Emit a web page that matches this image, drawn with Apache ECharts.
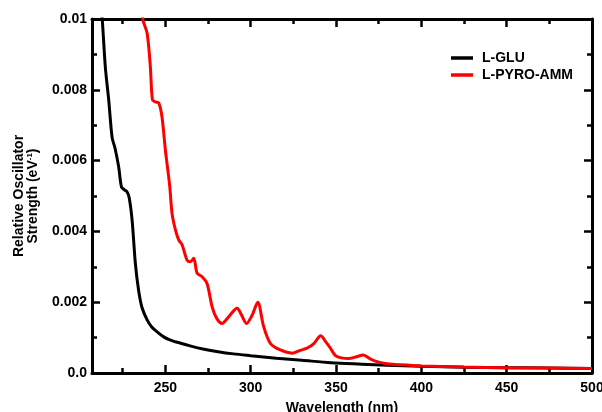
<!DOCTYPE html>
<html><head><meta charset="utf-8">
<script src="https://cdn.jsdelivr.net/npm/echarts@6/dist/echarts.min.js"></script>
<style>html,body{margin:0;padding:0;background:#fff}#c{width:602px;height:412px}</style>
</head><body><div id="c"></div>
<script>
const seriesNames = ['L-GLU', 'L-PYRO-AMM'];
const gluX = [209,213,214.8,216.8,218.8,220.5,222.6,224.3,225.8,227.5,228.8,230.5,232.4,234.3,236.3,239.3,242,245,249,253,259,265,272,280,290,300,315,330,347,365,380,400,425,450,475,500];
const gluY = [0.0125,0.0100,0.00865,0.00771,0.00665,0.00635,0.00583,0.00525,0.00518,0.00512,0.00495,0.00432,0.0031,0.00234,0.00185,0.0015,0.0013,0.00117,0.00102,0.00093,0.00084,0.00076,0.00068,0.00061,0.00054,0.00049,0.00042,0.00036,0.00029,0.00025,0.00022,0.00019,0.00016,0.00015,0.00014,0.00013];
const pyroX = [235,236.7,239.3,241.2,242.4,244.1,246.1,248,250,252.5,253.9,255.9,257.8,259.8,262.7,264.7,266.6,268.6,271.5,274.4,277.4,280,283.2,287.1,292,294.5,297.5,301,304.1,307.6,311.5,317.4,324.3,329,333,337,341,344,346.5,350,357.4,362,366,370,374,380,388,400,425,450,475,500];
const pyroY = [0.0110,0.0100,0.0096,0.00865,0.00772,0.00766,0.00763,0.00724,0.0063,0.0053,0.00451,0.00404,0.00376,0.00362,0.00319,0.00314,0.00324,0.00282,0.00272,0.00253,0.00187,0.00155,0.0014,0.00159,0.00183,0.00165,0.0014,0.00165,0.002,0.00131,0.00084,0.00065,0.00056,0.00064,0.0007,0.00083,0.00105,0.00088,0.00072,0.00048,0.00041,0.00046,0.00051,0.0004,0.00032,0.00026,0.00023,0.0002,0.00017,0.00015,0.00014,0.00013];
const xMajor = [250,300,350,400,450,500];
const xMinor = [225,275,325,375,425,475];
const yTicks = [0,0.002,0.004,0.006,0.008,0.01];
const yLabels = ['0.0','0.002','0.004','0.006','0.008','0.01'];

const FONT = '"Liberation Sans", Arial, sans-serif';
const chart = echarts.init(document.getElementById('c'), null, {renderer:'canvas'});
function pairs(xs, ys){ return xs.map((x,i)=>[x, ys[i]]); }
const lineStyleAxis = {color:'#000', width:3};
function xAx(pos, ticks, len, showLine, labels, extra){
  return Object.assign({
    type:'value', position:pos, min:207, max:500, gridIndex:0,
    axisLine:{show:showLine, onZero:false, lineStyle:lineStyleAxis},
    axisTick:{show:true, inside:true, length:len, customValues:ticks, lineStyle:{color:'#000', width:2.5}},
    axisLabel:{show:labels, customValues:xMajor, color:'#000', fontFamily:FONT, fontWeight:'bold', fontSize:14, margin:8},
    splitLine:{show:false}
  }, extra||{});
}
function yAx(pos, labels, extra){
  return Object.assign({
    type:'value', position:pos, min:0, max:0.01, interval:0.002,
    axisLine:{show:true, onZero:false, lineStyle:lineStyleAxis},
    axisTick:{show:true, inside:true, length:8, lineStyle:{color:'#000', width:2.5}},
    minorTick:{show:true, splitNumber:2, length:5, lineStyle:{color:'#000', width:2.5}},
    axisLabel:{show:labels, color:'#000', fontFamily:FONT, fontWeight:'bold', fontSize:14, margin:5,
      formatter:function(v){ const i = yTicks.findIndex(t=>Math.abs(t-v)<1e-9); return i>=0 ? yLabels[i] : ''; }},
    splitLine:{show:false}, minorSplitLine:{show:false}
  }, extra||{});
}
chart.setOption({
  animation:false,
  backgroundColor:'#fff',
  grid:{left:92, right:10, top:19, bottom:39, containLabel:false, outerBoundsMode:'none'},
  legend:{
    data:seriesNames, orient:'vertical', left:446, top:46, itemWidth:22, itemHeight:3.5, itemGap:3, icon:'rect',
    textStyle:{color:'#000', fontFamily:FONT, fontWeight:'bold', fontSize:14, padding:[0,0,0,4]}
  },
  xAxis:[
    xAx('bottom', xMajor, 8, true, true, {name:'Wavelength (nm)', nameLocation:'middle', nameGap:28,
      nameTextStyle:{color:'#000', fontFamily:FONT, fontWeight:'bold', fontSize:14}}),
    xAx('bottom', xMinor, 5, false, false),
    xAx('top', xMajor, 8, true, false),
    xAx('top', xMinor, 5, false, false)
  ],
  yAxis:[
    yAx('left', true, {name:'Relative Oscillator\nStrength (eV{sup|-1})', nameLocation:'middle', nameGap:52, nameRotate:90,
      nameTextStyle:{color:'#000', fontFamily:FONT, fontWeight:'bold', fontSize:14, lineHeight:14,
        rich:{sup:{fontFamily:FONT, fontWeight:'bold', fontSize:8, verticalAlign:'top', lineHeight:14, padding:[0,0,6,0]}}}}),
    yAx('right', false)
  ],
  series:[
    {name:seriesNames[0], type:'line', xAxisIndex:0, yAxisIndex:0, data:pairs(gluX,gluY), symbol:'none', smooth:0.3, clip:true,
      lineStyle:{color:'#000', width:3}, itemStyle:{color:'#000'}},
    {name:seriesNames[1], type:'line', xAxisIndex:0, yAxisIndex:0, data:pairs(pyroX,pyroY), symbol:'none', smooth:0.3, clip:true,
      lineStyle:{color:'#ff0000', width:3}, itemStyle:{color:'#ff0000'}}
  ]
});
</script></body></html>
